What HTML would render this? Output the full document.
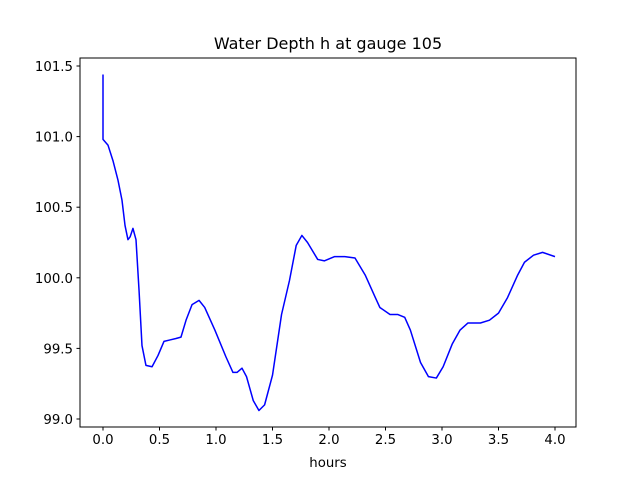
<!DOCTYPE html>
<html><head><meta charset="utf-8"><style>
body{margin:0;background:#fff}
svg{display:block;font-family:"DejaVu Sans","Liberation Sans",sans-serif}
</style></head><body>
<svg id="chart" width="640" height="480">
<rect width="640" height="480" fill="#fff"/>
<text x="328" y="49" font-size="16" text-anchor="middle">Water Depth h at gauge 105</text>
<g id="axes"></g>
<text x="328" y="467" font-size="13.3" text-anchor="middle">hours</text>
</svg>
<script>
const xs=[0,0,0.044,0.088,0.133,0.168,0.195,0.221,0.24,0.265,0.292,0.319,0.345,0.38,0.434,0.487,0.54,0.593,0.646,0.69,0.735,0.788,0.85,0.90,0.99,1.088,1.15,1.186,1.23,1.27,1.33,1.38,1.43,1.50,1.58,1.65,1.71,1.76,1.81,1.90,1.96,2.05,2.14,2.23,2.32,2.41,2.45,2.54,2.61,2.67,2.72,2.81,2.88,2.95,3.01,3.09,3.16,3.23,3.34,3.42,3.50,3.58,3.67,3.73,3.81,3.89,4.0];
const ys=[101.44,100.98,100.94,100.83,100.69,100.55,100.37,100.27,100.29,100.35,100.27,99.91,99.52,99.38,99.37,99.45,99.55,99.56,99.57,99.58,99.70,99.81,99.84,99.79,99.63,99.44,99.33,99.33,99.36,99.30,99.13,99.06,99.10,99.31,99.74,99.98,100.23,100.30,100.25,100.13,100.12,100.15,100.15,100.14,100.02,99.86,99.79,99.74,99.74,99.72,99.63,99.40,99.30,99.29,99.37,99.53,99.63,99.68,99.68,99.70,99.75,99.86,100.02,100.11,100.16,100.18,100.15];
const xTicks=[0,0.5,1,1.5,2,2.5,3,3.5,4];
const yTicks=[99.0,99.5,100.0,100.5,101.0,101.5];
const L=80,R=576,T=58,B=427;
const sx=v=>103+v*113;
const sy=v=>419-(v-99)*141.2;
const NS="http://www.w3.org/2000/svg";
const g=document.getElementById('axes');
function mk(t,a){const e=document.createElementNS(NS,t);for(const k in a)e.setAttribute(k,a[k]);g.appendChild(e);return e;}
const line=mk('polyline',{points:xs.map((x,i)=>sx(x)+','+sy(ys[i])).join(' '),fill:'none',stroke:'#0000ff','stroke-width':1.5,'stroke-linejoin':'round'});


const fr=mk('rect',{x:L,y:T,width:R-L,height:B-T,fill:'none',stroke:'#000','stroke-width':1});


xTicks.forEach(v=>{
  mk('line',{x1:sx(v),x2:sx(v),y1:B,y2:B+3.5,stroke:'#000'});
  const t=mk('text',{x:sx(v),y:B+17,'font-size':13.3,'text-anchor':'middle'});
  t.textContent=v.toFixed(1);
  
  
});
yTicks.forEach(v=>{
  mk('line',{x1:L-3.5,x2:L,y1:sy(v),y2:sy(v),stroke:'#000'});
  const t=mk('text',{x:L-7,y:sy(v)+5,'font-size':13.3,'text-anchor':'end'});
  t.textContent=v.toFixed(1);
  
  
});
</script>
</body></html>
